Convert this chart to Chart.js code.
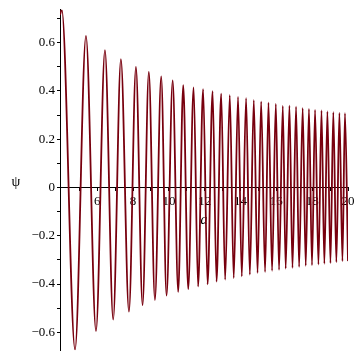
<!DOCTYPE html>
<html>
<head>
<meta charset="utf-8">
<script src="https://cdn.jsdelivr.net/npm/chart.js@4"></script>
<style>
    body { margin: 0; background: #fff; }
</style>
</head>
<body>
<canvas id="psi-chart" width="360" height="360"></canvas>
<script>
// psi(a): peaks and troughs, in order along a
const aValues = [3.92, 4.02, 4.76, 5.37, 5.93, 6.43, 6.89, 7.32, 7.77, 8.16, 8.53, 8.88, 9.22, 9.57, 9.87,
    10.21, 10.52, 10.80, 11.08, 11.38, 11.63, 11.91, 12.16, 12.44, 12.66, 12.92, 13.14, 13.40, 13.62, 13.86,
    14.07, 14.31, 14.52, 14.74, 14.95, 15.15, 15.37, 15.56, 15.76, 15.97, 16.15, 16.36, 16.52, 16.73, 16.90,
    17.10, 17.27, 17.47, 17.64, 17.82, 17.99, 18.16, 18.35, 18.52, 18.68, 18.85, 19.02, 19.18, 19.35, 19.52,
    19.69, 19.83, 20.0];
const psiValues = [0.715, 0.736, -0.671, 0.628, -0.595, 0.569, -0.547, 0.532, -0.514, 0.499, -0.487, 0.479,
    -0.466, 0.460, -0.448, 0.444, -0.432, 0.424, -0.421, 0.415, -0.410, 0.407, -0.401, 0.399, -0.390, 0.389,
    -0.382, 0.382, -0.375, 0.375, -0.368, 0.370, -0.361, 0.362, -0.354, 0.356, -0.350, 0.351, -0.345, 0.346,
    -0.341, 0.338, -0.336, 0.339, -0.333, 0.335, -0.329, 0.329, -0.324, 0.325, -0.322, 0.321, -0.319, 0.319,
    -0.316, 0.315, -0.313, 0.312, -0.309, 0.309, -0.305, 0.308, -0.305];

// Axis ticks
const xMajorTicks = [6, 8, 10, 12, 14, 16, 18, 20];
const xMinorTicks = [5, 7, 9, 11, 13, 15, 17, 19];
const yMajorTicks = [-0.6, -0.4, -0.2, 0, 0.2, 0.4, 0.6];
const yMinorTicks = [-0.5, -0.3, -0.1, 0.1, 0.3, 0.5, 0.7];

const LINE_COLOR = '#78000e';
const FONT = "'Liberation Serif', 'DejaVu Serif', serif";

Chart.defaults.font.family = FONT;
Chart.defaults.color = '#000';

function fmtY(v) {
    const r = Math.round(v * 10) / 10;
    if (r === 0) return '0';
    return (r < 0 ? '\u2212' : '') + Math.abs(r).toFixed(1);
}

// upright psi label to the left of the y axis, level with zero
const psiLabel = {
    id: 'psiLabel',
    afterDraw(chart) {
        const ctx = chart.ctx;
        const y0 = chart.scales.y.getPixelForValue(0);
        ctx.save();
        ctx.fillStyle = '#000';
        ctx.font = '14px ' + FONT;
        ctx.textAlign = 'center';
        ctx.textBaseline = 'middle';
        ctx.fillText('\u03c8', 16, y0 - 5);
        ctx.restore();
    }
};

const points = aValues.map((a, i) => ({ x: a, y: psiValues[i] }));

new Chart(document.getElementById('psi-chart'), {
    type: 'line',
    data: {
        datasets: [{
            data: points,
            borderColor: LINE_COLOR,
            borderWidth: 1.8,
            pointRadius: 0,
            fill: false,
            cubicInterpolationMode: 'monotone'
        }]
    },
    options: {
        responsive: false,
        animation: false,
        layout: { padding: { top: 8, right: 12, bottom: 7, left: 0 } },
        plugins: {
            legend: { display: false },
            tooltip: { enabled: false }
        },
        scales: {
            x: {
                type: 'linear',
                position: { y: 0 },
                z: 1,
                min: 3.92,
                max: 20,
                afterBuildTicks: scale => {
                    scale.ticks = xMajorTicks.concat(xMinorTicks).sort((p, q) => p - q).map(v => ({ value: v }));
                },
                ticks: {
                    autoSkip: false,
                    maxRotation: 0,
                    padding: 3,
                    color: '#000',
                    font: { family: FONT, size: 13 },
                    callback: v => xMajorTicks.includes(v) ? String(v) : ''
                },
                grid: { drawOnChartArea: false, drawTicks: true, tickLength: 3, color: '#000' },
                border: { display: true, color: '#000', width: 1 },
                title: {
                    display: true,
                    text: 'a',
                    color: '#000',
                    padding: { top: 0, bottom: 1 },
                    font: { family: FONT, size: 14, style: 'italic' }
                }
            },
            y: {
                type: 'linear',
                min: -0.674,
                max: 0.736,
                z: 1,
                afterFit: scale => { scale.width = 60; },
                afterBuildTicks: scale => {
                    scale.ticks = yMajorTicks.concat(yMinorTicks).sort((p, q) => p - q).map(v => ({ value: v }));
                },
                ticks: {
                    autoSkip: false,
                    padding: 2,
                    color: '#000',
                    font: { family: FONT, size: 13 },
                    callback: v => yMajorTicks.some(t => Math.abs(t - v) < 1e-9) ? fmtY(v) : ''
                },
                grid: { drawOnChartArea: false, drawTicks: true, tickLength: 3, color: '#000' },
                border: { display: true, color: '#000', width: 1 }
            }
        }
    },
    plugins: [psiLabel]
});
</script>
</body>
</html>
